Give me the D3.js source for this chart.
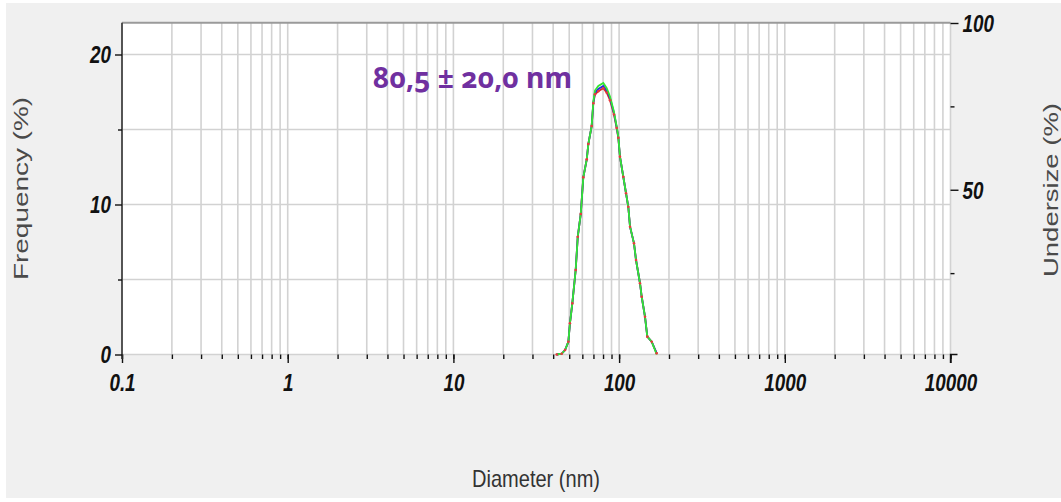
<!DOCTYPE html>
<html>
<head>
<meta charset="utf-8">
<script src="https://cdn.jsdelivr.net/npm/d3@7"></script>
<style>
  html, body { margin: 0; padding: 0; background: #ffffff; }
  svg { display: block; }
</style>
</head>
<body>
<svg id="chart" width="1061" height="502"></svg>
<script>
// ---------------- data ----------------
const diameters = [42.0, 45.0, 47.2, 49.4, 50.5, 52.2, 54.7, 56.3, 58.7, 60.8, 63.8, 65.2, 68.3, 69.9, 71.5, 74.9, 80.3, 84.2, 88.1, 93.1, 96.7, 98.9, 101.2, 106.0, 110.1, 113.6, 116.4, 123.0, 126.5, 133.7, 136.9, 143.3, 148.0, 157.3, 168.6];
const freqRed   = [0.0, 0.05, 0.3, 0.85, 2.08, 3.41, 5.63, 7.85, 9.37, 11.81, 13.01, 14.03, 15.23, 16.75, 17.35, 17.55, 17.75, 17.45, 16.95, 16.0, 15.1, 14.45, 13.19, 11.85, 10.75, 9.85, 8.52, 7.41, 6.30, 4.75, 3.85, 2.52, 1.19, 0.85, 0.08];
const freqBlue  = [0.0, 0.05, 0.3, 0.85, 2.08, 3.41, 5.63, 7.85, 9.37, 11.81, 13.01, 14.03, 15.23, 16.8, 17.45, 17.7, 17.9, 17.6, 17.1, 16.1, 15.15, 14.5, 13.19, 11.85, 10.75, 9.85, 8.52, 7.41, 6.30, 4.75, 3.85, 2.52, 1.19, 0.85, 0.08];
const freqGreen = [0.0, 0.05, 0.3, 0.85, 2.08, 3.41, 5.63, 7.85, 9.37, 11.81, 13.01, 14.03, 15.23, 16.85, 17.6, 17.9, 18.1, 17.75, 17.2, 16.19, 15.19, 14.52, 13.19, 11.85, 10.75, 9.85, 8.52, 7.41, 6.30, 4.75, 3.85, 2.52, 1.19, 0.85, 0.0];
const xMajorTicks = [0.1, 1, 10, 100, 1000, 10000];
const xTickLabels = ["0.1", "1", "10", "100", "1000", "10000"];
const yMajorTicks = [0, 10, 20];
const yMinorTicks = [5, 15];
const y2MajorTicks = [50, 100];
const y2MinorTicks = [25, 75];
const annotation = "80,5 ± 20,0 nm";
const xTitle = "Diameter (nm)";
const yTitle = "Frequency (%)";
const y2Title = "Undersize (%)";

// ---------------- layout ----------------
const L = 122, R = 950.5, T = 22.7, B = 354.5;
const svg = d3.select("#chart");

svg.append("rect").attr("x", 6).attr("y", 3).attr("width", 1055).attr("height", 495).attr("fill", "#f0f0f0");
svg.append("rect").attr("x", L).attr("y", T).attr("width", R - L).attr("height", B - T).attr("fill", "#ffffff");

const x = d3.scaleLog().domain([0.1, 10000]).range([L, R]);
const y = d3.scaleLinear().domain([0, 20]).range([B, 54.5]);
const y2 = d3.scaleLinear().domain([0, 100]).range([356.5, 23]);

const allXTicks = x.ticks();

// grid
const grid = svg.append("g");
grid.selectAll("line.v").data(allXTicks).join("line")
  .attr("x1", d => x(d)).attr("x2", d => x(d)).attr("y1", T).attr("y2", B)
  .attr("stroke", "#d2d2d2").attr("stroke-width", 1.6);
grid.selectAll("line.h").data([0, 5, 10, 15, 20]).join("line")
  .attr("x1", L).attr("x2", R).attr("y1", d => y(d)).attr("y2", d => y(d))
  .attr("stroke", "#d2d2d2").attr("stroke-width", 1.6);
// top frame
svg.append("line").attr("x1", L).attr("x2", R).attr("y1", T).attr("y2", T)
  .attr("stroke", "#9a9a9a").attr("stroke-width", 2);

// series
const pts = arr => diameters.map((d, i) => [d, arr[i]]);
const line = d3.line().x(d => x(d[0])).y(d => y(d[1]));
const series = svg.append("g");
series.append("path").datum(pts(freqRed)).attr("d", line)
  .attr("fill", "none").attr("stroke", "#e02828").attr("stroke-width", 1.8);
series.append("path").datum(pts(freqBlue)).attr("d", line)
  .attr("fill", "none").attr("stroke", "#2a2ae0").attr("stroke-width", 1.8);
series.append("path").datum(pts(freqGreen)).attr("d", line)
  .attr("fill", "none").attr("stroke", "#33e633").attr("stroke-width", 1.8);
series.selectAll("circle").data(pts(freqRed)).join("circle")
  .attr("cx", d => x(d[0])).attr("cy", d => y(d[1])).attr("r", 1.3)
  .attr("fill", "#e83a3a");

// axes
const FONT = "'Liberation Sans', Arial, sans-serif";
const SX = 0.82;
function styleAxis(g) {
  g.select(".domain").remove();
  g.selectAll(".tick line").attr("stroke", "#111").attr("stroke-width", 1.4);
  g.selectAll("text").attr("font-family", FONT).attr("font-size", 23)
    .attr("font-weight", "bold").attr("font-style", "italic").attr("fill", "#111");
}

// bottom minor
const gxMinor = svg.append("g").attr("transform", `translate(0,${B})`)
  .call(d3.axisBottom(x).tickValues(allXTicks).tickSize(4.5).tickFormat(""));
styleAxis(gxMinor);
// bottom major
const gxMajor = svg.append("g").attr("transform", `translate(0,${B})`)
  .call(d3.axisBottom(x).tickValues(xMajorTicks).tickSize(8.5)
    .tickFormat((d, i) => xTickLabels[i]));
styleAxis(gxMajor);
gxMajor.selectAll("text").attr("dy", null).attr("y", 36.5)
  .attr("transform", `scale(${SX},1)`);

// left
svg.append("line").attr("x1", L).attr("x2", L).attr("y1", T).attr("y2", B + 4.5)
  .attr("stroke", "#333").attr("stroke-width", 1.6);
const gyMinor = svg.append("g").attr("transform", `translate(${L},0)`)
  .call(d3.axisLeft(y).tickValues(yMinorTicks).tickSize(4).tickFormat(""));
styleAxis(gyMinor);
const gyMajor = svg.append("g").attr("transform", `translate(${L},0)`)
  .call(d3.axisLeft(y).tickValues(yMajorTicks).tickSize(7).tickFormat(d3.format("d")));
styleAxis(gyMajor);
gyMajor.selectAll("text").attr("dy", null).attr("y", 8.3).attr("x", -11 / SX)
  .attr("transform", `scale(${SX},1)`);

// right
const gy2Minor = svg.append("g").attr("transform", `translate(${R},0)`)
  .call(d3.axisRight(y2).tickValues(y2MinorTicks).tickSize(4).tickFormat(""));
styleAxis(gy2Minor);
const gy2Major = svg.append("g").attr("transform", `translate(${R},0)`)
  .call(d3.axisRight(y2).tickValues(y2MajorTicks).tickSize(8).tickFormat(d3.format("d")));
styleAxis(gy2Major);
gy2Major.selectAll("text").attr("dy", null).attr("y", 8.3).attr("x", 12 / SX)
  .attr("transform", `scale(${SX},1)`);
svg.append("path").attr("d", `M${R},${B + 8.5}V${B}H${R + 7}`)
  .attr("fill", "none").attr("stroke", "#111").attr("stroke-width", 1.4);

// titles
svg.append("text").attr("transform", "translate(28,188.5) rotate(-90)")
  .attr("text-anchor", "middle").attr("font-family", FONT).attr("font-size", 21)
  .attr("fill", "#4a4a4a").attr("textLength", 183).attr("lengthAdjust", "spacingAndGlyphs")
  .text(yTitle);
svg.append("text").attr("transform", "translate(1058,190) rotate(-90)")
  .attr("text-anchor", "middle").attr("font-family", FONT).attr("font-size", 21)
  .attr("fill", "#4a4a4a").attr("textLength", 174).attr("lengthAdjust", "spacingAndGlyphs")
  .text(y2Title);
svg.append("text").attr("x", 472).attr("y", 487)
  .attr("font-family", FONT).attr("font-size", 24)
  .attr("fill", "#333").attr("textLength", 128).attr("lengthAdjust", "spacingAndGlyphs")
  .text(xTitle);

// annotation
svg.append("text").attr("x", 373).attr("y", 87.5)
  .attr("font-family", "'Noto Sans', 'Open Sans', sans-serif").attr("font-size", 29)
  .attr("font-weight", "bold").attr("fill", "#7030a0")
  .style("font-variant-numeric", "oldstyle-nums")
  .attr("textLength", 199).attr("lengthAdjust", "spacingAndGlyphs")
  .text(annotation);
</script>
</body>
</html>
